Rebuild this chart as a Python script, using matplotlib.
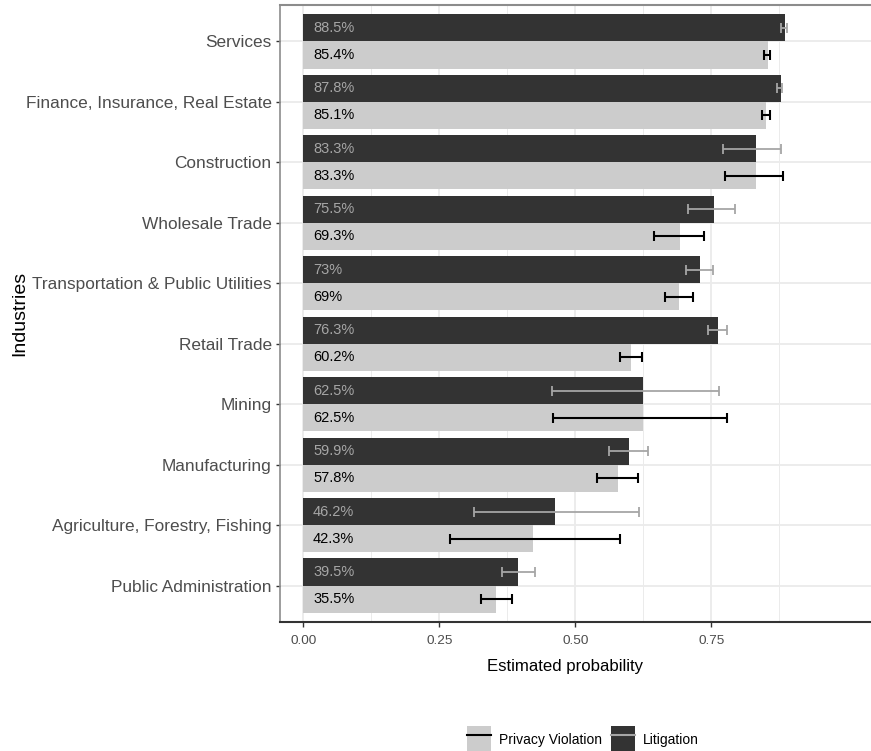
import matplotlib
matplotlib.use("Agg")
import matplotlib.pyplot as plt
import matplotlib.font_manager as fm
from matplotlib.patches import Patch
from matplotlib.lines import Line2D
import numpy as np

# estimated probabilities by industry (bottom to top as drawn)
industries = ["Public Administration", "Agriculture, Forestry, Fishing", "Manufacturing",
              "Mining", "Retail Trade", "Transportation & Public Utilities",
              "Wholesale Trade", "Construction", "Finance, Insurance, Real Estate", "Services"]
litigation = [0.395, 0.462, 0.599, 0.625, 0.763, 0.73, 0.755, 0.833, 0.878, 0.885]
privacy = [0.355, 0.423, 0.578, 0.625, 0.602, 0.69, 0.693, 0.833, 0.851, 0.854]
lit_labels = ["39.5%", "46.2%", "59.9%", "62.5%", "76.3%", "73%", "75.5%", "83.3%", "87.8%", "88.5%"]
priv_labels = ["35.5%", "42.3%", "57.8%", "62.5%", "60.2%", "69%", "69.3%", "83.3%", "85.1%", "85.4%"]

# confidence intervals
lit_lo = [0.365, 0.313, 0.562, 0.457, 0.744, 0.703, 0.708, 0.771, 0.870, 0.879]
lit_hi = [0.425, 0.618, 0.634, 0.764, 0.779, 0.753, 0.794, 0.878, 0.880, 0.889]
priv_lo = [0.327, 0.270, 0.540, 0.459, 0.582, 0.664, 0.644, 0.776, 0.843, 0.847]
priv_hi = [0.384, 0.583, 0.615, 0.778, 0.622, 0.716, 0.737, 0.882, 0.858, 0.858]

installed = {f.name for f in fm.fontManager.ttflist}
if "Liberation Sans Narrow" in installed:
    narrow, k = "Liberation Sans Narrow", 1.0
else:
    narrow, k = "Liberation Sans", 0.83

W, H = 871, 751
fig = plt.figure(figsize=(W / 100, H / 100), dpi=100)
ax = fig.add_axes([280 / W, (H - 622) / H, (W - 280) / W, 617 / H])

y = np.arange(1, len(industries) + 1)
h = 0.45
light, dark = "#cccccc", "#333333"

ax.barh(y + h / 2, litigation, height=h, color=dark, zorder=2)
ax.barh(y - h / 2, privacy, height=h, color=light, zorder=2)

lit_lo, lit_hi = np.array(lit_lo), np.array(lit_hi)
priv_lo, priv_hi = np.array(priv_lo), np.array(priv_hi)
ax.errorbar((lit_lo + lit_hi) / 2, y + h / 2, xerr=(lit_hi - lit_lo) / 2, fmt="none",
            ecolor="#a6a6a6", elinewidth=1.3, capsize=3.8, capthick=1.3, zorder=3)
ax.errorbar((priv_lo + priv_hi) / 2, y - h / 2, xerr=(priv_hi - priv_lo) / 2, fmt="none",
            ecolor="black", elinewidth=1.5, capsize=3.8, capthick=1.5, zorder=3)

for yi, lt, pt in zip(y, lit_labels, priv_labels):
    ax.text(0.018, yi + h / 2, lt, ha="left", va="center", color="#a6a6a6",
            family=narrow, fontsize=12.7 * k, zorder=4)
    ax.text(0.018, yi - h / 2, pt, ha="left", va="center", color="black",
            family=narrow, fontsize=12.7 * k, zorder=4)

ax.set_xlim((280 - 303.3) / 544, (W - 303.3) / 544)
ax.set_ylim(0.4, 10.6)
ax.set_xticks([0, 0.25, 0.5, 0.75])
ax.set_xticklabels(["0.00", "0.25", "0.50", "0.75"])
ax.set_xticks([0.125, 0.375, 0.625, 0.875], minor=True)
ax.set_yticks(y)
ax.set_yticklabels(industries)
ax.tick_params(axis="y", length=3, width=1, color="#333333", pad=3,
               labelsize=15 * k, labelcolor="#4d4d4d")
ax.tick_params(axis="x", which="major", length=3.5, width=1, color="#333333", pad=6,
               labelsize=11.7 * k, labelcolor="#4d4d4d")
ax.tick_params(axis="x", which="minor", length=0)
for lab in ax.get_xticklabels() + ax.get_yticklabels():
    lab.set_family(narrow)

ax.grid(True, which="major", color="#ebebeb", linewidth=1.3, zorder=0)
ax.grid(True, which="minor", axis="x", color="#ebebeb", linewidth=0.7, zorder=0)
ax.set_axisbelow(True)

ax.spines["right"].set_visible(False)
ax.spines["top"].set_color("#8c8c8c")
ax.spines["top"].set_linewidth(1.5)
ax.spines["left"].set_color("#8c8c8c")
ax.spines["left"].set_linewidth(1.2)
ax.spines["bottom"].set_color("#333333")
ax.spines["bottom"].set_linewidth(1.5)

ax.set_xlabel("Estimated probability", family=narrow, fontsize=14.5 * k, color="black")
ax.xaxis.set_label_coords((565 - 280) / (W - 280), -(659 - 622) / 617)
fig.text(20 / W, 1 - 313 / H, "Industries", rotation=90, ha="center", va="center",
         family="Liberation Sans", fontsize=14, color="black")

handles = [(Patch(facecolor=light), Line2D([], [], color="black", lw=1.5)),
           (Patch(facecolor=dark), Line2D([], [], color="#a6a6a6", lw=1.5))]
fig.legend(handles, ["Privacy Violation", "Litigation"], loc="center",
           bbox_to_anchor=(583 / W, 1 - 740 / H), ncol=2, frameon=False,
           prop={"family": narrow, "size": 12 * k}, handlelength=1.75, handleheight=2.8,
           handletextpad=0.6, columnspacing=0.6, borderpad=0)

fig.savefig("out.png", dpi=100)
